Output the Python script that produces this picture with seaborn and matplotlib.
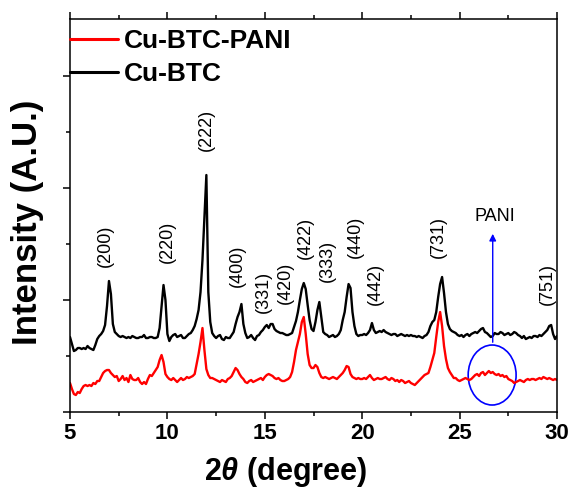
import numpy as np
import pandas as pd
import matplotlib
matplotlib.use("Agg")
import matplotlib.pyplot as plt
from matplotlib.patches import Ellipse
import seaborn as sns

# 2-theta grid, 0.1 degree step (5 .. 30)
two_theta = np.round(np.arange(5.0, 30.05, 0.1), 1)

# intensities (a.u., one row per degree)
cu_btc = [
    75, 68, 61, 62, 64, 64, 63, 64, 63, 66,
    64, 63, 62, 67, 73, 76, 78, 81, 87, 106,
    131, 118, 88, 80, 78, 76, 75, 76, 75, 74,
    75, 74, 76, 75, 74, 74, 75, 75, 77, 74,
    74, 75, 75, 74, 74, 75, 84, 105, 127, 112,
    78, 71, 75, 77, 78, 75, 76, 77, 74, 74,
    76, 78, 79, 82, 86, 93, 102, 120, 152, 195,
    237, 120, 90, 79, 76, 74, 76, 77, 73, 72,
    75, 74, 74, 77, 80, 88, 95, 100, 108, 88,
    79, 74, 75, 77, 74, 72, 76, 77, 80, 82,
    85, 87, 84, 88, 88, 83, 81, 80, 79, 79,
    78, 77, 77, 78, 79, 85, 91, 100, 112, 123,
    129, 123, 107, 92, 83, 81, 90, 102, 110, 95,
    80, 78, 77, 75, 76, 77, 75, 76, 78, 82,
    92, 100, 115, 128, 124, 100, 86, 78, 76, 77,
    77, 78, 77, 79, 82, 89, 82, 79, 80, 81,
    80, 82, 80, 79, 78, 77, 78, 78, 76, 77,
    78, 77, 76, 77, 76, 77, 76, 76, 75, 76,
    75, 74, 76, 77, 80, 86, 90, 92, 100, 115,
    128, 135, 119, 100, 88, 83, 81, 80, 79, 77,
    76, 77, 75, 77, 78, 76, 78, 79, 80, 79,
    81, 83, 84, 80, 79, 77, 75, 76, 79, 78,
    78, 80, 79, 77, 78, 79, 77, 78, 80, 79,
    77, 76, 74, 76, 73, 74, 75, 74, 76, 76,
    75, 77, 76, 78, 80, 82, 86, 87, 78, 73,
    76,
]

cu_btc_pani = [
    29, 23, 18, 17, 20, 19, 23, 26, 27, 26,
    27, 26, 29, 28, 31, 31, 35, 39, 41, 42,
    42, 39, 37, 35, 36, 31, 33, 36, 32, 34,
    30, 37, 33, 32, 32, 34, 30, 28, 30, 28,
    33, 37, 36, 39, 42, 45, 52, 57, 50, 38,
    35, 33, 32, 34, 32, 30, 32, 34, 32, 33,
    35, 34, 35, 36, 38, 48, 58, 70, 84, 62,
    43, 37, 34, 34, 33, 32, 31, 30, 32, 31,
    30, 33, 34, 36, 40, 44, 42, 38, 35, 33,
    30, 29, 31, 32, 30, 31, 32, 33, 34, 32,
    35, 37, 38, 37, 36, 34, 33, 34, 32, 31,
    31, 32, 33, 35, 40, 50, 62, 70, 78, 90,
    95, 78, 58, 47, 44, 44, 47, 45, 39, 35,
    34, 35, 34, 33, 34, 35, 34, 33, 35, 37,
    39, 42, 46, 45, 38, 35, 34, 33, 34, 33,
    33, 34, 33, 35, 37, 34, 32, 33, 34, 33,
    33, 34, 35, 33, 32, 34, 33, 31, 32, 30,
    32, 31, 29, 30, 31, 29, 28, 27, 29, 31,
    33, 35, 37, 38, 39, 45, 52, 59, 75, 90,
    100, 86, 66, 53, 44, 40, 37, 34, 34, 32,
    31, 32, 33, 34, 33, 32, 33, 35, 37, 38,
    36, 39, 40, 37, 39, 41, 39, 40, 38, 37,
    38, 36, 37, 35, 36, 33, 32, 31, 29, 30,
    31, 32, 31, 30, 32, 33, 32, 33, 33, 32,
    33, 34, 33, 35, 34, 33, 34, 33, 32, 33,
    32,
]

series_names = ['Cu-BTC-PANI', 'Cu-BTC']
series_colors = {'Cu-BTC-PANI': '#ff0000', 'Cu-BTC': '#000000'}

# Miller index labels and where they sit
peak_labels = ['(200)', '(220)', '(222)', '(400)', '(331)', '(420)',
               '(422)', '(333)', '(440)', '(442)', '(731)', '(751)']
peak_x = [6.8, 10.0, 11.98, 13.57, 14.95, 16.04, 17.1, 18.2, 19.63, 20.66, 23.9, 29.49]
peak_y = [166, 170, 282, 146, 120, 129, 174, 151, 175, 128, 175, 128]

assert len(cu_btc) == len(two_theta) == len(cu_btc_pani)

df = pd.DataFrame({
    'two_theta': np.concatenate([two_theta, two_theta]),
    'intensity': cu_btc_pani + cu_btc,
    'sample': ['Cu-BTC-PANI'] * len(two_theta) + ['Cu-BTC'] * len(two_theta),
})

sns.set_style("ticks")
plt.rcParams['font.family'] = ['Liberation Sans', 'DejaVu Sans']
plt.rcParams['mathtext.fontset'] = 'custom'
plt.rcParams['mathtext.rm'] = 'Liberation Sans:bold'
plt.rcParams['mathtext.it'] = 'Liberation Sans:bold:italic'
for key in ['text.color', 'axes.labelcolor', 'xtick.color', 'ytick.color', 'axes.edgecolor']:
    plt.rcParams[key] = 'black'

fig = plt.figure(figsize=(5.71, 4.88), dpi=100)
ax = fig.add_axes([0.1226, 0.1557, 0.8529, 0.8053])

sns.lineplot(data=df, x='two_theta', y='intensity', hue='sample',
             hue_order=series_names, palette=series_colors,
             estimator=None, linewidth=1.7, ax=ax)

ax.set_xlim(5, 30)
ax.set_ylim(0, 393)
ax.set_xticks([5, 10, 15, 20, 25, 30])
ax.set_xticks(np.arange(7.5, 30, 5), minor=True)
ax.set_yticks([0, 112, 224, 336])
ax.set_yticks([56, 168, 280], minor=True)
ax.set_yticklabels([])
ax.set_xlabel('')
ax.set_ylabel('')
ax.tick_params(axis='both', which='major', direction='out', length=5, width=1.1,
               top=True, right=False, labeltop=False)
ax.tick_params(axis='both', which='minor', direction='out', length=3, width=1.1,
               top=True, right=False)
ax.tick_params(axis='x', labelsize=16, pad=3)
for lab in ax.get_xticklabels():
    lab.set_fontweight('bold')
for sp in ax.spines.values():
    sp.set_linewidth(1.1)
    sp.set_color('black')

# peak labels
for lab, px, py in zip(peak_labels, peak_x, peak_y):
    ax.text(px, py, lab, rotation=90, ha='center', va='center', fontsize=13)

# PANI hump marker
ax.add_patch(Ellipse((26.67, 37), 2.46, 60, fill=False, edgecolor='#0000ff', linewidth=1.2))
ax.annotate('', xy=(26.7, 181), xytext=(26.7, 67),
            arrowprops=dict(arrowstyle='-|>', color='#0000ff', lw=1.0, mutation_scale=10))
ax.text(26.82, 196, 'PANI', ha='center', va='center', fontsize=13)

leg = ax.legend(loc='upper left', bbox_to_anchor=(0, 0.975), frameon=False,
                borderaxespad=0, borderpad=0, handlelength=1.8, handletextpad=0.25,
                labelspacing=0.35, prop={'weight': 'bold', 'size': 19})
for line in leg.get_lines():
    line.set_linewidth(2.2)

fig.text(286 / 571, 1 - 472 / 488, r'$\mathit{2\theta}$ (degree)', ha='center', va='center',
         fontsize=22, fontweight='bold')
fig.text(0.049, 0.545, 'Intensity (A.U.)', rotation=90, ha='center', va='center',
         fontsize=25, fontweight='bold')

fig.savefig('out.png', dpi=100)
